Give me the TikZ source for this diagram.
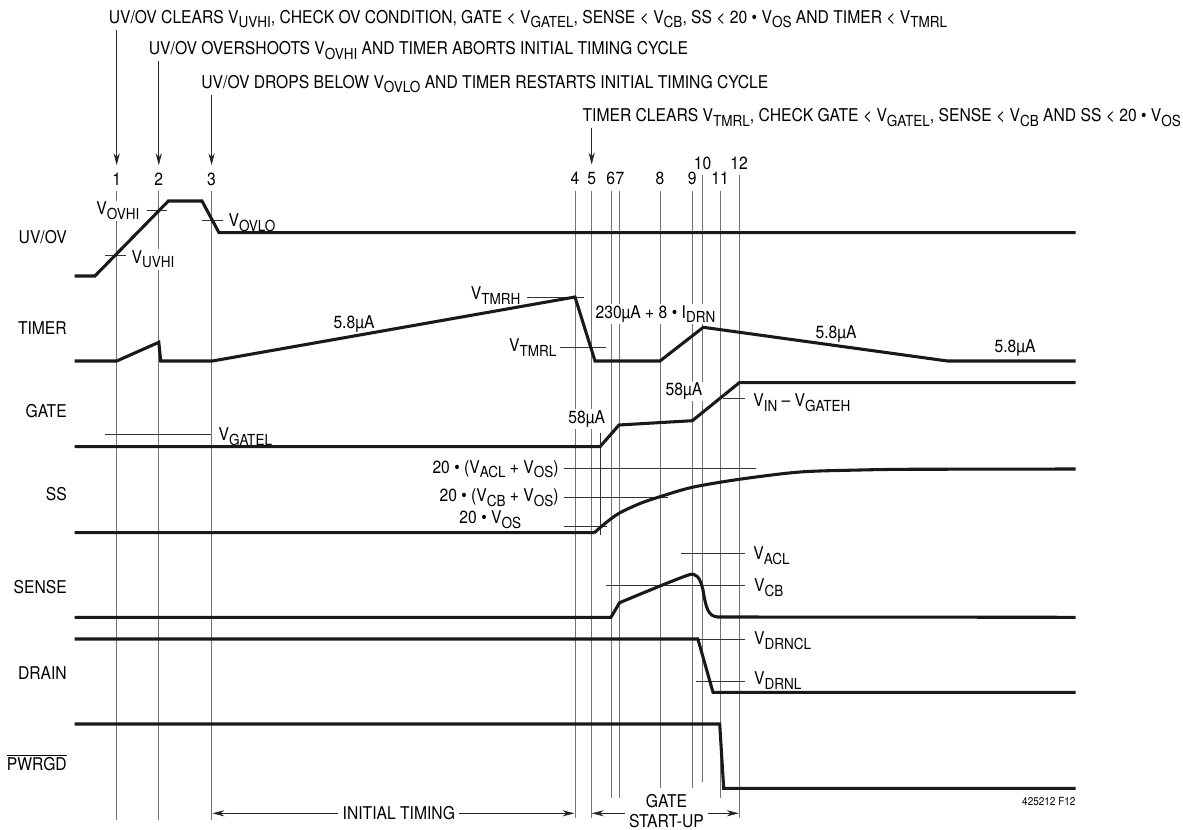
\documentclass[tikz,border=0pt]{standalone}
\usepackage{fontspec}
\setmainfont{TeX Gyre Heros}[FakeStretch=0.89]
\usetikzlibrary{arrows.meta}
\newcommand{\lsub}[1]{\raisebox{-0.5ex}{\fontsize{11.4}{12}\selectfont #1}}
\tikzset{
    wave/.style={line width=2.3pt, black!90},
    gridline/.style={line width=0.6pt, black!55},
    levelmark/.style={line width=0.6pt, black!80},
    evarrow/.style={
        line width=0.6pt,
        black!85,
        ->,
        >={Stealth[length=9pt, width=4.6pt]}
    },
    spanarrow/.style={
        line width=0.6pt,
        black!85,
        ->,
        >={Stealth[length=9pt, width=4.6pt]}
    },
    signame/.style={anchor=base east, inner sep=0pt},
    lvl/.style={fill=white, inner sep=1pt},
    evtext/.style={anchor=base west, inner sep=1pt},
    evnum/.style={anchor=base, inner sep=1pt}
}
\begin{document}
\begin{tikzpicture}[x=0.75pt, y=-0.75pt, font=\fontsize{13.2}{15}\selectfont]
	\useasboundingbox (0,0) rectangle (1183,830);
	
	% event texts
	\node[evtext] (ev1) at (107.2,23.3) {UV/OV CLEARS V\lsub{UVHI}, CHECK OV CONDITION, GATE < V\lsub{GATEL}, SENSE < V\lsub{CB}, SS < 20 • V\lsub{OS} AND TIMER < V\lsub{TMRL}};
	\node[evtext] (ev2) at (147.3,55) {UV/OV OVERSHOOTS V\lsub{OVHI} AND TIMER ABORTS INITIAL TIMING CYCLE};
	\node[evtext] (ev3) at (199.8,88.3) {UV/OV DROPS BELOW V\lsub{OVLO} AND TIMER RESTARTS INITIAL TIMING CYCLE};
	\node[evtext] (ev4) at (581,121.7) {TIMER CLEARS V\lsub{TMRL}, CHECK GATE < V\lsub{GATEL}, SENSE < V\lsub{CB} AND SS < 20 • V\lsub{OS}};
	
	% event numbers
	\foreach \n/\gx/\gy in {1/116.7/186, 2/158.8/186, 3/211.6/186, 4/575/185, 5/591.7/185,
		8/660/185, 9/692.3/185, 10/702.5/169.3, 11/720/185, 12/739/169.3}
		\node[evnum] (num\n) at (\gx,\gy) {\n};
	\node[evnum, anchor=base east, inner xsep=0pt] (num6) at (615.3,185) {6};
	\node[evnum, anchor=base west, inner xsep=0pt] (num7) at (615.3,185) {7};
	
	\draw[evarrow, shorten >=5pt] (ev1.south -| num1) -- (num1.north);
	\draw[evarrow, shorten >=5pt] (ev2.south -| num2) -- (num2.north);
	\draw[evarrow, shorten >=5pt] (ev3.south -| num3) -- (num3.north);
	\draw[evarrow, shorten >=5pt] (ev4.south -| num5) -- (num5.north);
	
	% vertical time marks
	\foreach \gx/\gt/\gb in {116.7/191/820, 158.8/191/820, 211.6/191/820, 575/190.7/818,
		591.7/190.7/818, 611/190.7/798, 619.5/190.7/798, 660/190.7/788, 692.3/190.7/788,
		702.5/175/782, 720/190.7/798, 739/175/818}
		\draw[gridline] (\gx,\gt) -- (\gx,\gb);
	
	% spans at the bottom
	\coordinate (it1) at (212.4,813.3);
	\coordinate (it2) at (574.5,813.3);
	\coordinate (gs1) at (591.8,813.3);
	\coordinate (gs2) at (738.8,813.3);
	\node[fill=white, inner xsep=3pt, inner ysep=1pt] (inittime) at (398.8,813.3) {INITIAL TIMING};
	\node[align=center, inner xsep=3pt, inner ysep=0pt, font=\fontsize{13.2}{14.4}\selectfont] (gatesu) at (666.5,811) {GATE\\START-UP};
	\draw[spanarrow] (inittime.west) -- (it1);
	\draw[spanarrow] (inittime.east) -- (it2);
	\draw[spanarrow] (gatesu.west |- gs1) -- (gs1);
	\draw[spanarrow] (gatesu.east |- gs2) -- (gs2);
	
	% signal names
	\node[signame] (nuvov) at (67,243.3) {UV/OV};
	\node[signame] (ntimer) at (67,334.3) {TIMER};
	\node[signame] (ngate) at (67,417.3) {GATE};
	\node[signame] (nss) at (67,500.3) {SS};
	\node[signame] (nsense) at (67,593.3) {SENSE};
	\node[signame] (ndrain) at (67,679.3) {DRAIN};
	\node[signame] (npwrgd) at (67,770.3) {$\overline{\mbox{PWRGD}}$};
	
	% level labels
	\node[lvl, anchor=base east] (lovhi) at (141,215) {V\lsub{OVHI}};
	\node[lvl, anchor=base west] (luvhi) at (130,263.3) {V\lsub{UVHI}};
	\node[lvl, anchor=base west] (lovlo) at (227,226.7) {V\lsub{OVLO}};
	\node[lvl, anchor=base east] (ltmrh) at (522,300) {V\lsub{TMRH}};
	\node[lvl, anchor=base east] (ltmrl) at (558,351.7) {V\lsub{TMRL}};
	\node[lvl, anchor=base] (li1) at (354,328.3) {5.8µA};
	\node[lvl, anchor=base west] (li2) at (594,318.3) {230µA + 8 • I\lsub{DRN}};
	\node[lvl, anchor=base] (li3) at (836,339) {5.8µA};
	\node[lvl, anchor=base] (li4) at (1015,352.3) {5.8µA};
	\node[lvl, anchor=base] (li5) at (586.7,423.3) {58µA};
	\node[lvl, anchor=base] (li6) at (684,396) {58µA};
	\node[lvl, anchor=base west] (lgateh) at (751.7,406.7) {V\lsub{IN} – V\lsub{GATEH}};
	\node[lvl, anchor=base west] (lgatel) at (217,440.5) {V\lsub{GATEL}};
	\node[lvl, anchor=base east] (lssacl) at (560.3,473.3) {20 • (V\lsub{ACL} + V\lsub{OS})};
	\node[lvl, anchor=base east] (lsscb) at (560.3,501.7) {20 • (V\lsub{CB} + V\lsub{OS})};
	\node[lvl, anchor=base east] (lssos) at (522.7,524) {20 • V\lsub{OS}};
	\node[lvl, anchor=base west] (lacl) at (751.7,560) {V\lsub{ACL}};
	\node[lvl, anchor=base west] (lcb) at (752.5,591.7) {V\lsub{CB}};
	\node[lvl, anchor=base west] (ldrncl) at (752.5,645) {V\lsub{DRNCL}};
	\node[lvl, anchor=base west] (ldrnl) at (752.5,685) {V\lsub{DRNL}};
	\node[anchor=base east, inner sep=0pt, font=\fontsize{8.4}{10}\selectfont] (figno) at (1075.7,805) {425212 F12};
	
	% level marks
	\draw[levelmark] (146.6,210.7) -- (167,210.7);
	\draw[levelmark] (105,255) -- (126,255);
	\draw[levelmark] (202,220.7) -- (222.7,220.7);
	\draw[levelmark] (527.4,297.3) -- (583.6,297.3);
	\draw[levelmark] (559.5,347.5) -- (605.7,347.5);
	\draw[levelmark] (722.7,398.3) -- (745,398.3);
	\draw[levelmark] (105,434) -- (211,434);
	\draw[levelmark] (564.3,468.3) -- (756,468.3);
	\draw[levelmark] (564.3,497) -- (668,497);
	\draw[levelmark] (564.3,526) -- (606.7,526);
	\draw[levelmark] (600,433.3) -- (600,535);
	\draw[levelmark] (681,553.3) -- (745,553.3);
	\draw[levelmark] (605.7,585.3) -- (744.7,585.3);
	\draw[levelmark] (690,639) -- (744.7,639);
	\draw[levelmark] (696.3,681.3) -- (744.7,681.3);
	
	% waveforms
	\draw[wave] (74.6,276) -- (94.9,276) -- (168.4,201) -- (202,201) -- (219,232.7) -- (1075.7,232.7);
	\draw[wave] (74.6,361) -- (116.7,361) -- (158.8,342.3) -- (160.7,361) -- (212.4,361)
		-- (575,297) -- (595,361) -- (660,361) -- (703.3,327.3) -- (947.4,361) -- (1075.7,361);
	\draw[wave] (74.6,446.7) -- (600,446.7) -- (619,425) -- (692.3,420.7) -- (739.3,382.7) -- (1075.7,382.7);
	\draw[wave] (74.6,532.7) -- (594.3,532.7)
		plot[smooth] coordinates {(594.3,532.7) (605,523.5) (619,513.3) (640,503.5) (660,496.7)
		(692.3,487.3) (739.3,479.3) (800,472) (860,470) (900,469.3)} -- (1075.7,469);
	\draw[wave] (74.6,617.3) -- (610.9,617.3) -- (619.6,602.7)
		.. controls (650,590) and (678,578.5) .. (689,574.8)
		.. controls (696,572.5) and (700,577) .. (703,590)
		.. controls (706,608) and (708,616.5) .. (718,617) -- (1075.7,617.3);
	\draw[wave] (74.6,639) -- (697.9,639) -- (713,692.3) -- (1075.7,692.3);
	\draw[wave] (74.6,724) -- (719.7,724) -- (723.7,788.3) -- (1075.7,788.3);
\end{tikzpicture}
\end{document}
